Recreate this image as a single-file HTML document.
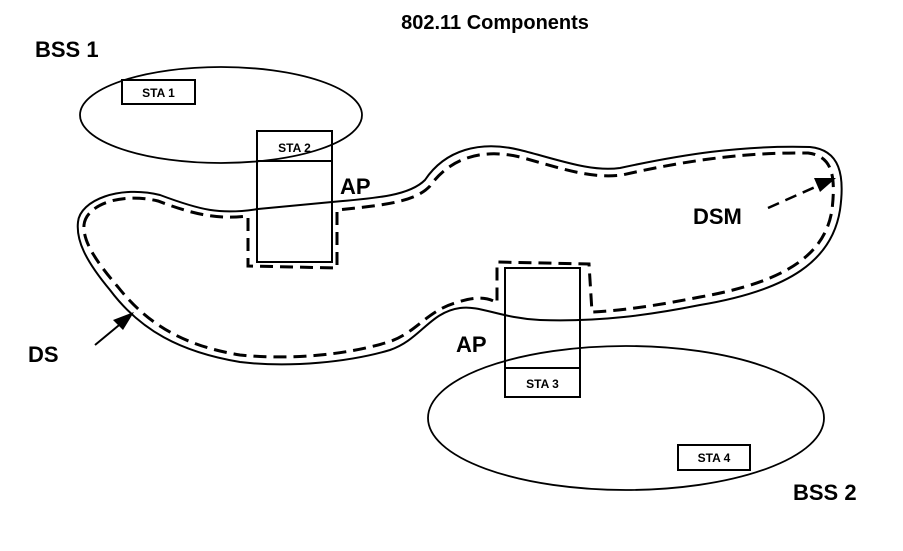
<!DOCTYPE html>
<html><head><style>html,body{margin:0;padding:0;background:#fff}svg{display:block}</style></head>
<body>
<svg width="903" height="551" viewBox="0 0 903 551" xmlns="http://www.w3.org/2000/svg" font-family="Liberation Sans, Arial, sans-serif" font-weight="bold">
<rect width="903" height="551" fill="#fff"/>
<text x="495" y="29" font-size="20" text-anchor="middle">802.11 Components</text>
<text x="35" y="57" font-size="22">BSS 1</text>
<text x="793" y="500" font-size="22">BSS 2</text>
<ellipse cx="221" cy="115" rx="141" ry="48" fill="none" stroke="#000" stroke-width="1.8"/>
<ellipse cx="626" cy="418" rx="198" ry="72" fill="none" stroke="#000" stroke-width="1.8"/>
<path d="M 78 222 C 80 200, 120 185, 160 195 C 200 210, 220 215, 258 209 L 332 202 C 380 198, 410 195, 425 180 C 445 150, 480 140, 520 150 C 560 160, 590 172, 620 168 C 680 155, 740 145, 810 147 C 840 150, 845 175, 840 210 C 832 260, 790 290, 700 305 C 650 315, 600 322, 540 320 C 500 318, 480 305, 460 308 C 430 312, 420 340, 390 350 C 350 362, 290 368, 240 362 C 180 352, 140 330, 110 290 C 85 260, 76 240, 78 222 Z" fill="none" stroke="#000" stroke-width="2"/>
<path d="M 84 225 C 86 205, 120 192, 158 201 C 190 213, 215 220, 248 216 L 248 266 L 337 268 L 337 210 C 385 205, 415 202, 430 186 C 450 158, 482 148, 520 157 C 560 168, 590 179, 622 175 C 680 162, 740 152, 808 153 C 832 156, 836 175, 832 210 C 825 255, 785 282, 700 297 C 660 305, 620 311, 592 312 L 589 264 L 497 262 L 497 303 C 485 295, 470 298, 455 303 C 425 312, 415 335, 385 343 C 345 355, 290 360, 240 355 C 185 346, 148 325, 118 287 C 93 258, 83 240, 84 225 Z" fill="none" stroke="#000" stroke-width="3" stroke-dasharray="13 7"/>
<rect x="122" y="80" width="73" height="24" fill="#fff" stroke="#000" stroke-width="2"/>
<text x="158.5" y="97" font-size="12" text-anchor="middle">STA 1</text>
<rect x="257" y="131" width="75" height="131" fill="none" stroke="#000" stroke-width="2"/>
<line x1="257" y1="161" x2="332" y2="161" stroke="#000" stroke-width="2"/>
<text x="294.5" y="152" font-size="12" text-anchor="middle">STA 2</text>
<rect x="505" y="268" width="75" height="129" fill="none" stroke="#000" stroke-width="2"/>
<line x1="505" y1="368" x2="580" y2="368" stroke="#000" stroke-width="2"/>
<text x="542.5" y="388" font-size="12" text-anchor="middle">STA 3</text>
<rect x="678" y="445" width="72" height="25" fill="#fff" stroke="#000" stroke-width="2"/>
<text x="714" y="462" font-size="12" text-anchor="middle">STA 4</text>
<text x="340" y="194" font-size="22" font-weight="normal" style="font-weight:bold">AP</text>
<text x="456" y="352" font-size="22">AP</text>
<text x="28" y="362" font-size="22">DS</text>
<text x="693" y="224" font-size="22">DSM</text>
<line x1="95" y1="345" x2="124" y2="321" stroke="#000" stroke-width="2"/>
<polygon points="134,312 113,320 123,330" fill="#000"/>
<line x1="768" y1="208" x2="822" y2="184" stroke="#000" stroke-width="2.5" stroke-dasharray="12 7"/>
<polygon points="836,178 814,178 820,192" fill="#000"/>
</svg>
</body></html>
